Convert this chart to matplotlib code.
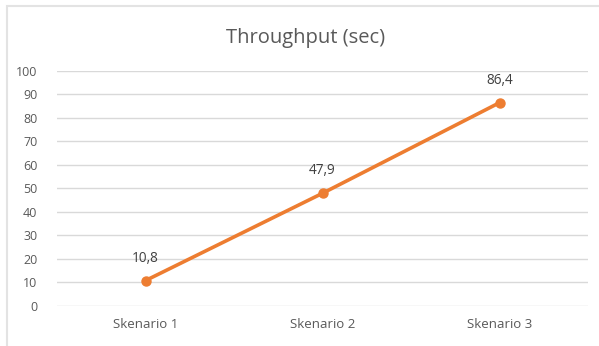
import matplotlib
matplotlib.use("Agg")
import matplotlib.pyplot as plt
from matplotlib.patches import Rectangle

categories = ["Skenario 1", "Skenario 2", "Skenario 3"]
values = [10.8, 47.9, 86.4]
value_labels = ["10,8", "47,9", "86,4"]
yticks = list(range(0, 101, 10))

W, H, DPI = 599, 346, 100
fig = plt.figure(figsize=(W / DPI, H / DPI), dpi=DPI)
plt.rcParams["font.family"] = ["Open Sans", "DejaVu Sans"]

# chart frame (extends past right/bottom edges)
fig.patches.append(Rectangle((6.5 / W, -0.05), 1.1, 1 - 5.5 / H + 0.05,
                             transform=fig.transFigure, fill=False,
                             edgecolor="#E3E3E3", linewidth=1.5))

left, right = 57 / W, 588 / W
top, bottom = 1 - 70.7 / H, 1 - 306 / H
ax = fig.add_axes([left, bottom, right - left, top - bottom])

x = list(range(len(categories)))
ax.plot(x, values, color="#ED7D31", linewidth=2.6, marker="o",
        markersize=6.5, solid_capstyle="round", zorder=3)
for xi, v, lab in zip(x, values, value_labels):
    ax.annotate(lab, (xi, v), xytext=(0, 15), textcoords="offset pixels",
                ha="center", va="bottom", fontsize=9.8, color="#404040")

ax.set_xlim(-0.5, len(categories) - 0.5)
ax.set_ylim(0, 100)
ax.set_yticks(yticks)
ax.set_yticklabels([str(t) for t in yticks])
ax.set_xticks(x)
ax.set_xticklabels(categories)
ax.tick_params(axis="both", length=0, labelcolor="#595959")
ax.tick_params(axis="y", pad=14, labelsize=9)
ax.tick_params(axis="x", pad=9, labelsize=9.5)
ax.grid(axis="y", color="#D9D9D9", linewidth=1)
ax.set_axisbelow(True)
for s in ax.spines.values():
    s.set_visible(False)

fig.text(306 / W, 1 - 38 / H, "Throughput (sec)", ha="center", va="center",
         fontsize=14.5, color="#595959")

fig.savefig("out.png", dpi=DPI)
